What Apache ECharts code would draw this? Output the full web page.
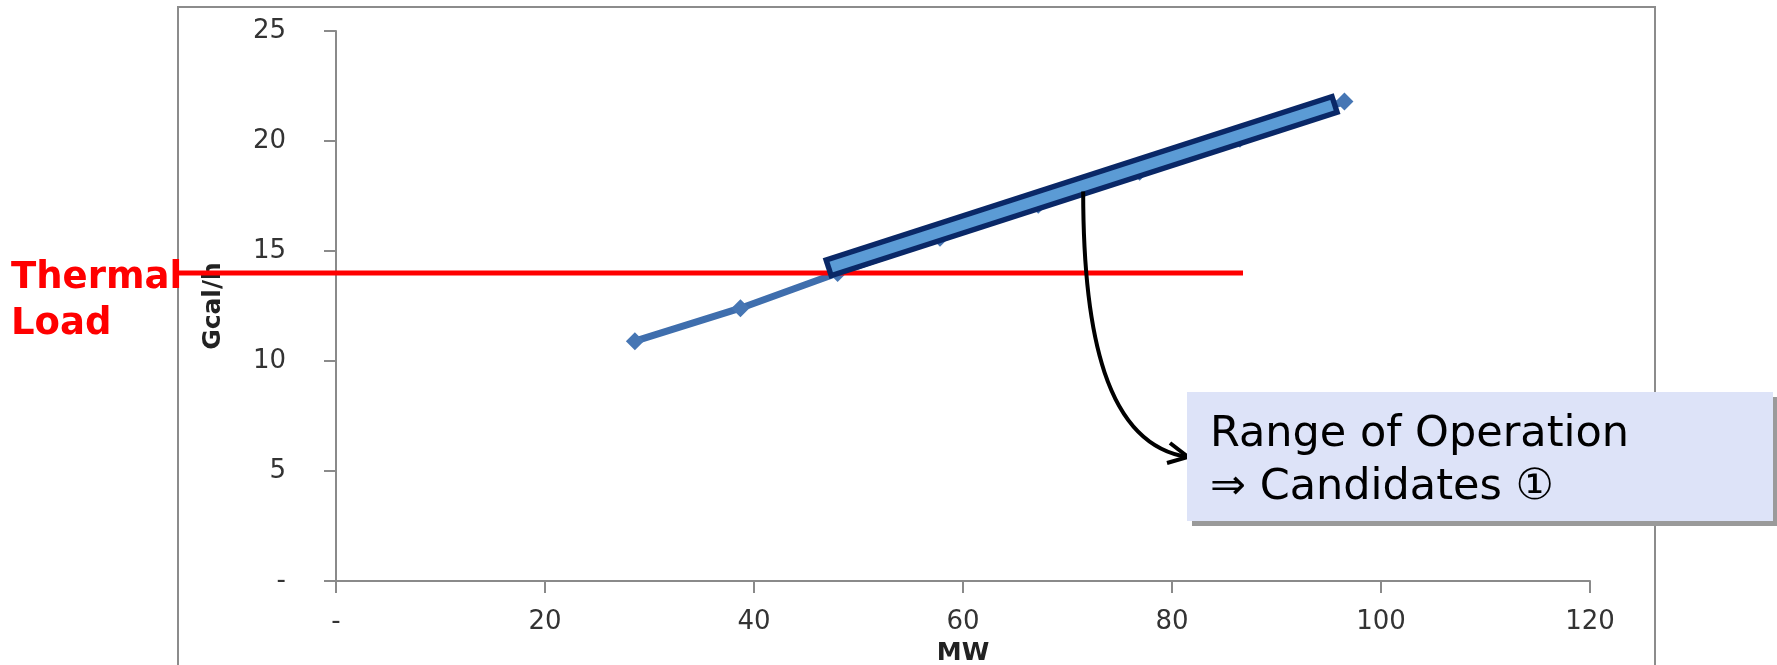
<!DOCTYPE html>
<html>
<head>
<meta charset="utf-8">
<title>Gcal/h vs MW</title>
<script src="https://cdn.jsdelivr.net/npm/echarts/dist/echarts.min.js"></script>
<style>
  html, body { margin: 0; padding: 0; background: #fff; }
  #chart { width: 1777px; height: 665px; }
</style>
</head>
<body>
<div id="chart"></div>
<script>
// data
var mw = [28.6, 38.7, 48.0, 57.8, 67.2, 76.9, 86.5, 96.5];
var gcal = [10.9, 12.4, 14.0, 15.6, 17.1, 18.6, 20.1, 21.8];

// thermal load line (runs off to the left of the plot, up to the chart frame)
var thermalLoad = 14;
var thermalMw = [-15.1, 86.8];

// highlighted range of operation
var rangeMw = [46.9, 95.8];
var rangeGcal = [14.2, 21.7];

// axis ticks
var xTicks = [0, 120, 20];   // min, max, step
var yTicks = [0, 25, 5];

// where the callout arrow leaves the band
var arrowFrom = [71.5, 17.7];

var FONT = '"DejaVu Sans", Verdana, sans-serif';

function zeroDash(v) { return v === 0 ? '-' : String(v); }

// inner part of the band stops short of the ends so the dark border closes it
var inset = 0.01;
var innerMw = [rangeMw[0] + (rangeMw[1] - rangeMw[0]) * inset, rangeMw[1] - (rangeMw[1] - rangeMw[0]) * inset];
var innerGcal = [rangeGcal[0] + (rangeGcal[1] - rangeGcal[0]) * inset, rangeGcal[1] - (rangeGcal[1] - rangeGcal[0]) * inset];

var chart = echarts.init(document.getElementById('chart'));

var axisLineStyle = { color: '#8a8a8a', width: 2 };

var option = {
  animation: false,
  grid: [
    { left: 336, right: 187, top: 31, bottom: 84, containLabel: false, outerBoundsMode: 'none' },
    // same scale, widened to the left edge of the frame for the thermal load line
    { left: 178, right: 187, top: 31, bottom: 84, containLabel: false, outerBoundsMode: 'none' }
  ],
  xAxis: [
    {
      type: 'value', gridIndex: 0,
      min: xTicks[0], max: xTicks[1], interval: xTicks[2],
      name: 'MW',
      nameLocation: 'middle',
      nameGap: 60,
      nameTextStyle: { fontFamily: FONT, fontWeight: 'bold', fontSize: 25, color: '#222' },
      axisLine: { show: true, lineStyle: axisLineStyle },
      axisTick: { show: true, inside: false, length: 12, lineStyle: axisLineStyle },
      axisLabel: { margin: 28, fontFamily: FONT, fontSize: 26, color: '#333', formatter: zeroDash },
      splitLine: { show: false }
    },
    {
      type: 'value', gridIndex: 1, show: false,
      min: thermalMw[0], max: xTicks[1]
    }
  ],
  yAxis: [
    {
      type: 'value', gridIndex: 0,
      min: yTicks[0], max: yTicks[1], interval: yTicks[2],
      name: 'Gcal/h',
      nameLocation: 'middle',
      nameGap: 110,
      nameTextStyle: { fontFamily: FONT, fontWeight: 'bold', fontSize: 25, color: '#222' },
      axisLine: { show: true, lineStyle: axisLineStyle },
      axisTick: { show: true, inside: false, length: 12, lineStyle: axisLineStyle },
      axisLabel: { margin: 50, fontFamily: FONT, fontSize: 26, color: '#333', formatter: zeroDash },
      splitLine: { show: false }
    },
    {
      type: 'value', gridIndex: 1, show: false,
      min: yTicks[0], max: yTicks[1]
    }
  ],
  series: [
    {
      name: 'Gcal/h',
      type: 'line',
      data: mw.map(function (x, i) { return [x, gcal[i]]; }),
      symbol: 'diamond',
      symbolSize: 18,
      itemStyle: { color: '#4676b4' },
      lineStyle: { color: '#3f6ead', width: 7 },
      z: 2
    },
    {
      name: 'Thermal Load',
      type: 'line',
      xAxisIndex: 1, yAxisIndex: 1,
      data: [[thermalMw[0], thermalLoad], [thermalMw[1], thermalLoad]],
      symbol: 'none',
      lineStyle: { color: '#ff0000', width: 5 },
      z: 3
    },
    {
      name: 'range border',
      type: 'line',
      data: [[rangeMw[0], rangeGcal[0]], [rangeMw[1], rangeGcal[1]]],
      symbol: 'none',
      lineStyle: { color: '#0a2867', width: 22, cap: 'butt' },
      z: 4
    },
    {
      name: 'range fill',
      type: 'line',
      data: [[innerMw[0], innerGcal[0]], [innerMw[1], innerGcal[1]]],
      symbol: 'none',
      lineStyle: { color: '#5b9bd5', width: 11, cap: 'butt' },
      z: 5
    }
  ]
};
chart.setOption(option);

// annotations, anchored on the grid
var p0 = chart.convertToPixel({ gridIndex: 0 }, arrowFrom);
var box = { x: 1187, y: 392, w: 586, h: 129 };
var tip = [box.x + 1, box.y + 65];

chart.setOption({
  graphic: [
    {
      type: 'rect', silent: true, z: -10,
      shape: { x: 178, y: 7, width: 1477, height: 700 },
      style: { fill: 'none', stroke: '#8c8c8c', lineWidth: 2 }
    },
    {
      type: 'text', silent: true, z: 10,
      x: 11, y: 255,
      style: {
        text: 'Thermal\nLoad',
        fontFamily: FONT, fontWeight: 'bold', fontSize: 37, lineHeight: 46,
        fill: '#ff0000', verticalAlign: 'top'
      }
    },
    {
      type: 'bezierCurve', silent: true, z: 10,
      shape: {
        x1: p0[0], y1: p0[1],
        cpx1: p0[0], cpy1: p0[1] + 140,
        cpx2: p0[0] + 22, cpy2: tip[1] - 12,
        x2: tip[0], y2: tip[1]
      },
      style: { stroke: '#000', lineWidth: 4, fill: null }
    },
    {
      type: 'polyline', silent: true, z: 10,
      shape: { points: [[tip[0] - 18, tip[1] - 14], tip, [tip[0] - 21, tip[1] + 6]] },
      style: { stroke: '#000', lineWidth: 4, fill: null }
    },
    {
      type: 'rect', silent: true, z: 10,
      shape: { x: box.x + 5, y: box.y + 5, width: box.w, height: box.h },
      style: { fill: '#9a9a9a' }
    },
    {
      type: 'rect', silent: true, z: 11,
      shape: { x: box.x, y: box.y, width: box.w, height: box.h },
      style: { fill: '#dde3f8' }
    },
    {
      type: 'text', silent: true, z: 12,
      x: box.x + 23, y: box.y + 16,
      style: {
        text: 'Range of Operation\n\u21D2 Candidates \u2460',
        fontFamily: FONT, fontSize: 43, lineHeight: 53,
        fill: '#000', verticalAlign: 'top'
      }
    }
  ]
});
</script>
</body>
</html>
